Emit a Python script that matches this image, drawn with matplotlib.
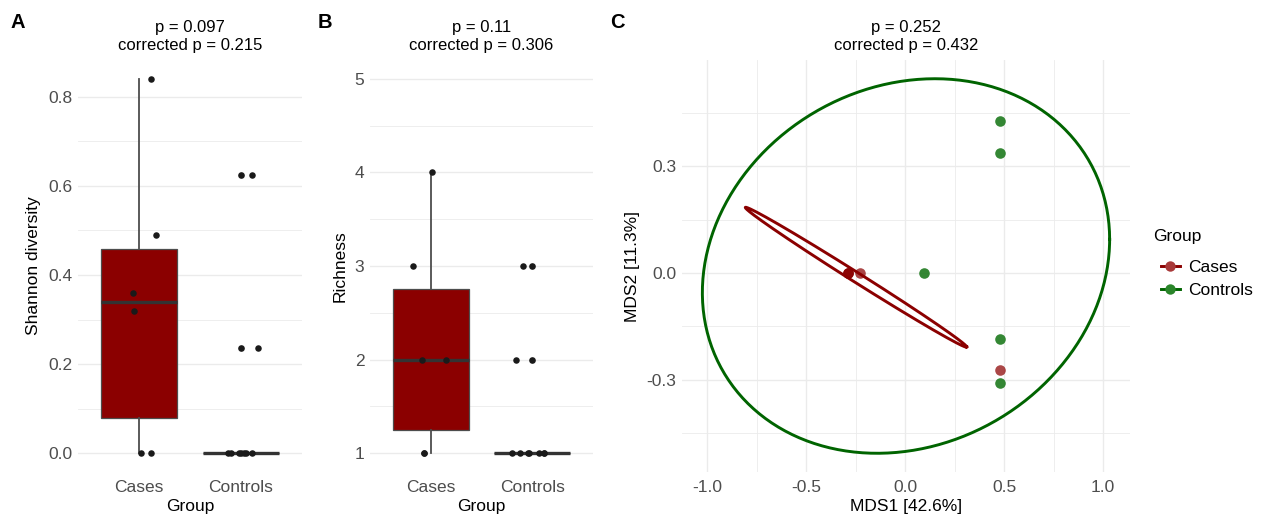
import matplotlib

matplotlib.use("Agg")
import matplotlib.pyplot as plt
import numpy as np
from matplotlib.lines import Line2D

plt.rcParams["font.family"] = ["Liberation Sans", "DejaVu Sans"]
plt.rcParams["axes.unicode_minus"] = False

GROUPS = ["Cases", "Controls"]
GROUP_COLORS = {"Cases": "#8B0000", "Controls": "#006400"}

# panel A: Shannon diversity per sample, with the jitter offsets
SHANNON_CASES = [0.84, 0.49, 0.36, 0.32, 0.0, 0.0]
SHANNON_CASES_JITTER = [0.12, 0.17, -0.06, -0.05, 0.02, 0.12]
SHANNON_CONTROLS = [0.625, 0.237, 0.0, 0.0, 0.0, 0.0, 0.0, 0.0, 0.0]
SHANNON_CONTROLS_JITTER = [0.11, 0.17, -0.13, -0.10, -0.02, 0.0, 0.03, 0.05, 0.11]

# panel B: richness
RICHNESS_CASES = [4, 3, 2, 2, 1, 1]
RICHNESS_CASES_JITTER = [0.01, -0.18, -0.09, 0.15, -0.065, -0.07]
RICHNESS_CONTROLS = [3, 2, 1, 1, 1, 1, 1, 1, 1]
RICHNESS_CONTROLS_JITTER = [-0.095, -0.155, -0.195, -0.12, -0.04, -0.03, 0.07, 0.115, 0.12]

# panel C: MDS ordination
MDS1_CASES = [-0.288, -0.288, -0.288, -0.229, 0.48]
MDS2_CASES = [0.0, 0.0, 0.0, 0.0, -0.272]
MDS1_CONTROLS = [0.48, 0.48, 0.097, 0.48, 0.48]
MDS2_CONTROLS = [0.428, 0.337, 0.0, -0.185, -0.31]

# ellipses: centre, first half-axis, second half-axis (data units)
CASES_ELLIPSE = [(-0.2485, -0.012), (0.5595, -0.196), (0.0, 0.016)]
CONTROLS_ELLIPSE = [(0.004, 0.0195), (1.029, 0.0748), (0.0, 0.5212)]

TITLES = [
    "p = 0.097\ncorrected p = 0.215",
    "p = 0.11\ncorrected p = 0.306",
    "p = 0.252\ncorrected p = 0.432",
]

W, H = 1261, 518
TICK_COLOR = "#4D4D4D"
GRID_COLOR = "#EBEBEB"
FS = 12.5


def add_panel(fig, left, top, right, bottom):
    return fig.add_axes([left / W, 1 - bottom / H, (right - left) / W, (bottom - top) / H])


def style_axes(ax, grid_axis):
    for spine in ax.spines.values():
        spine.set_visible(False)
    ax.tick_params(which="both", length=0, labelsize=FS, labelcolor=TICK_COLOR)
    ax.tick_params(axis="x", pad=6)
    ax.tick_params(axis="y", pad=4)
    ax.grid(True, axis=grid_axis, which="major", color=GRID_COLOR, linewidth=1.0)
    ax.grid(True, axis=grid_axis, which="minor", color=GRID_COLOR, linewidth=0.6)
    ax.set_axisbelow(True)


def draw_box_panel(ax, cases, cases_jit, controls, controls_jit):
    ax.boxplot(
        [cases, controls],
        positions=[1, 2],
        widths=0.75,
        whis=1.5,
        patch_artist=True,
        boxprops=dict(facecolor="#8B0000", edgecolor=TICK_COLOR, linewidth=0.9),
        medianprops=dict(color="#333333", linewidth=2.4, solid_capstyle="butt"),
        whiskerprops=dict(color=TICK_COLOR, linewidth=1.3),
        capprops=dict(visible=False),
        flierprops=dict(marker="o", markerfacecolor="#1A1A1A", markeredgecolor="none", markersize=4.8),
        zorder=2,
    )
    ax.scatter(1 + np.array(cases_jit), cases, s=22, color="#1A1A1A", lw=0, zorder=3)
    ax.scatter(2 + np.array(controls_jit), controls, s=22, color="#1A1A1A", lw=0, zorder=3)
    ax.set_xlim(0.4, 2.6)
    ax.set_xticks([1, 2], GROUPS)
    ax.set_xlabel("Group", fontsize=FS, labelpad=3)


def ellipse_curve(params):
    (cx, cy), (ax_, ay_), (bx, by) = params
    t = np.linspace(0, 2 * np.pi, 300)
    return cx + ax_ * np.cos(t) + bx * np.sin(t), cy + ay_ * np.cos(t) + by * np.sin(t)


def main():
    fig = plt.figure(figsize=(W / 100, H / 100), dpi=100)

    # A
    ax_a = add_panel(fig, 78, 60, 302, 472)
    style_axes(ax_a, "y")
    draw_box_panel(ax_a, SHANNON_CASES, SHANNON_CASES_JITTER, SHANNON_CONTROLS, SHANNON_CONTROLS_JITTER)
    ax_a.set_ylim(-0.042, 0.882)
    ax_a.set_yticks([0, 0.2, 0.4, 0.6, 0.8], ["0.0", "0.2", "0.4", "0.6", "0.8"])
    ax_a.set_yticks([0.1, 0.3, 0.5, 0.7], minor=True)
    ax_a.set_ylabel("Shannon diversity", fontsize=FS, labelpad=5)

    # B
    ax_b = add_panel(fig, 370, 60, 593, 472)
    style_axes(ax_b, "y")
    draw_box_panel(ax_b, RICHNESS_CASES, RICHNESS_CASES_JITTER, RICHNESS_CONTROLS, RICHNESS_CONTROLS_JITTER)
    ax_b.set_ylim(0.8, 5.2)
    ax_b.set_yticks([1, 2, 3, 4, 5], ["1", "2", "3", "4", "5"])
    ax_b.set_yticks([1.5, 2.5, 3.5, 4.5], minor=True)
    ax_b.set_ylabel("Richness", fontsize=FS, labelpad=5)

    # C
    ax_c = add_panel(fig, 682, 60, 1130, 472)
    style_axes(ax_c, "both")
    ax_c.scatter(MDS1_CASES, MDS2_CASES, s=58, color=GROUP_COLORS["Cases"], alpha=0.72, lw=0, zorder=3)
    ax_c.scatter(MDS1_CONTROLS, MDS2_CONTROLS, s=58, color="#1E7A1E", alpha=0.9, lw=0, zorder=3)
    all_x, all_y = [], []
    for params, group in [(CASES_ELLIPSE, "Cases"), (CONTROLS_ELLIPSE, "Controls")]:
        ex, ey = ellipse_curve(params)
        ax_c.plot(ex, ey, color=GROUP_COLORS[group], linewidth=2.1, zorder=4)
        all_x.extend(ex)
        all_y.extend(ey)
    x_lo, x_hi = min(all_x), max(all_x)
    y_lo, y_hi = min(all_y), max(all_y)
    ax_c.set_xlim(x_lo - 0.05 * (x_hi - x_lo), x_hi + 0.05 * (x_hi - x_lo))
    ax_c.set_ylim(y_lo - 0.05 * (y_hi - y_lo), y_hi + 0.05 * (y_hi - y_lo))
    ax_c.set_xticks([-1.0, -0.5, 0.0, 0.5, 1.0], ["-1.0", "-0.5", "0.0", "0.5", "1.0"])
    ax_c.set_xticks([-0.75, -0.25, 0.25, 0.75], minor=True)
    ax_c.set_yticks([-0.3, 0.0, 0.3], ["-0.3", "0.0", "0.3"])
    ax_c.set_yticks([-0.45, -0.15, 0.15, 0.45], minor=True)
    ax_c.set_xlabel("MDS1 [42.6%]", fontsize=FS, labelpad=3)
    ax_c.set_ylabel("MDS2 [11.3%]", fontsize=FS, labelpad=5)

    for ax, title in zip([ax_a, ax_b, ax_c], TITLES):
        ax.set_title(title, fontsize=12, pad=7, linespacing=1.3)

    for letter, x_px in zip(["A", "B", "C"], [18, 325, 617]):
        fig.text(x_px / W, 1 - 23 / H, letter, fontsize=14.5, fontweight="bold", ha="center", va="center")

    # legend for panel C, title placed separately to match the wider gap
    fig.text(1153 / W, 1 - 237 / H, "Group", fontsize=FS, ha="left", va="center")
    handles = [
        Line2D([], [], color=GROUP_COLORS["Cases"], lw=2.1, marker="o", markersize=7.5,
               markerfacecolor="#A83A3A", markeredgecolor="none"),
        Line2D([], [], color=GROUP_COLORS["Controls"], lw=2.1, marker="o", markersize=7.5,
               markerfacecolor="#2A852A", markeredgecolor="none"),
    ]
    fig.legend(
        handles,
        GROUPS,
        loc="upper left",
        bbox_to_anchor=(1145 / W, 1 - 244 / H),
        frameon=False,
        fontsize=FS,
        handlelength=1.1,
        handletextpad=0.5,
        labelspacing=0.45,
    )

    fig.savefig("out.png", dpi=100)
    plt.close(fig)


if __name__ == "__main__":
    main()
